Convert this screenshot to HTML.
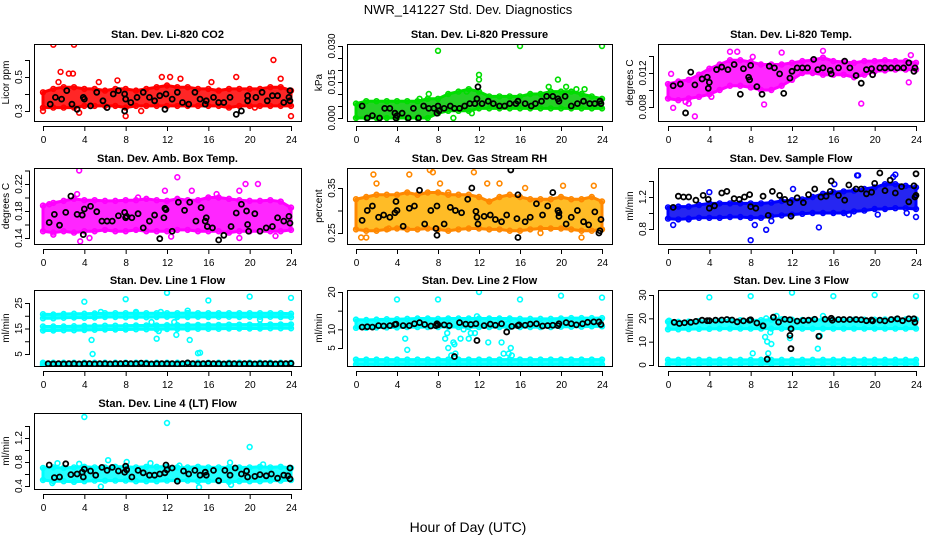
<!DOCTYPE html>
<html><head><meta charset="utf-8"><style>
html,body{margin:0;padding:0;background:#fff;}
svg{display:block;font-family:"Liberation Sans",Arial,sans-serif;}
</style></head><body>
<svg id="chart" width="936" height="540" viewBox="0 0 936 540" xmlns="http://www.w3.org/2000/svg">
<rect width="936" height="540" fill="#fff"/>
<text x="468" y="14" text-anchor="middle" font-size="13">NWR_141227  Std. Dev. Diagnostics</text>
<text x="468" y="532" text-anchor="middle" font-size="14">Hour of Day (UTC)</text>
</svg>
<script>
const xTicks = [0,4,8,12,16,20,24];
const hours = [0,1,2,3,4,5,6,7,8,9,10,11,12,13,14,15,16,17,18,19,20,21,22,23,24];

// P1 CO2
const co2Lo = [.32,.32,.32,.32,.33,.33,.33,.33,.32,.33,.33,.33,.33,.33,.33,.33,.33,.33,.32,.33,.33,.33,.33,.33,.33];
const co2Hi = [.41,.43,.44,.44,.43,.43,.42,.43,.43,.42,.43,.44,.45,.44,.44,.43,.43,.42,.43,.43,.43,.43,.44,.44,.42];
const co2OutX = [1,3,1.7,2.5,2.9,1.5,7.2,5.4,11.5,12.3,13.3,16.3,18.7,22.3,23,0,3.5,8,9.5,24,20.5];
const co2OutY = [.69,.69,.53,.52,.52,.47,.48,.47,.50,.50,.49,.47,.50,.60,.49,.30,.29,.27,.30,.27,.32];
const co2BlkX = [0.7,1.2,1.8,2.3,2.8,3.3,3.9,4,4.6,5.2,5.8,6.2,6.8,7.3,7.9,8,7.9,8.5,9.1,9.7,10.3,10.8,11.3,11.8,11.9,12.5,13,13.5,14.1,14.7,15.2,15.8,15.7,16.5,17,17.5,18.1,18.7,19.2,19.8,19.8,20.6,21.2,21.7,22.2,22.7,23.3,23.8,23.9,23.9];
const co2BlkY = [.34,.38,.37,.42,.34,.31,.38,.37,.33,.41,.36,.32,.40,.42,.40,.37,.30,.35,.38,.41,.38,.36,.39,.31,.40,.37,.41,.35,.34,.41,.37,.36,.34,.38,.35,.35,.38,.28,.30,.39,.36,.38,.41,.36,.39,.39,.35,.38,.42,.36];

// P2 Pressure
const prLo = [0,0,0,0,0,0,0,0,.002,.003,.003,.003,.004,.004,.004,.004,.004,.004,.004,.004,.004,.004,.004,.004,.004];
const prHi = [.006,.007,.007,.007,.007,.007,.007,.008,.008,.010,.011,.012,.011,.009,.009,.009,.009,.010,.010,.011,.011,.011,.010,.009,.008];
const prOutX = [8,16,24,12,12,19.7,18.8,20.5,22.3,7.1,11.3,9.5,6.2,10.8,21.5];
const prOutY = [.028,.030,.030,.018,.016,.016,.013,.013,.012,.010,.002,.000,.008,.011,.012];
const prBlkX = [0.6,1.1,1.6,2.3,2.8,3.3,3.8,3.9,4,4.5,5.1,5.6,6.1,6.6,7.1,7.6,7.9,8,8.1,8.6,9.2,9.6,10.1,10.6,11.1,11.6,11.9,11.8,12.3,12.9,13.4,14,14.5,15,15.6,15.8,16.5,17.1,17.5,18.1,18.6,19.2,19.7,19.8,20.4,21,21.6,22.2,22.8,23.3,23.8,23.9];
const prBlkY = [.005,.000,.001,.000,.004,.004,.002,.000,.001,.002,.000,.004,.000,.005,.004,.004,.002,.005,.003,.004,.005,.004,.004,.005,.006,.006,.013,.008,.006,.007,.006,.005,.005,.006,.006,.007,.006,.005,.006,.007,.009,.009,.008,.007,.009,.005,.006,.007,.006,.006,.007,.006];

// P3 Li-820 Temp
const tmLo = [.0090,.0088,.0090,.0092,.0095,.0100,.0105,.0105,.0103,.0100,.0100,.0105,.0112,.0120,.0120,.0118,.0118,.0118,.0115,.0118,.0122,.0123,.0124,.0124,.0124];
const tmHi = [.0107,.0110,.0112,.0118,.0125,.0130,.0135,.0135,.0133,.0130,.0130,.0130,.0132,.0134,.0135,.0138,.0134,.0133,.0132,.0134,.0134,.0135,.0134,.0134,.0132];
const tmOutX = [2.6,1.7,6,6.7,11,15,9.3,18.7,0.5,23.5,23.3,0.3,2,4.2,8.2];
const tmOutY = [.0069,.0086,.0145,.0145,.0144,.0146,.0083,.0084,.0079,.0141,.0109,.0119,.0084,.0092,.0139];
const tmBlkX = [0.5,1.2,1.7,2.2,2.6,3.3,3.8,3.9,4,4.7,5.2,5.8,6.4,7,7.3,7.8,7.9,8,8.6,9.1,9.8,10.3,10.8,11.2,11.8,12,12.5,13,13.5,14.1,14.5,15,15.7,15.8,16.5,17.1,17.6,18.2,18.7,19.2,19.7,19.8,20.5,21,21.6,22.2,22.8,23.3,23.8,23.9];
const tmBlkY = [.0105,.0107,.0073,.0121,.0106,.0113,.0115,.0102,.0109,.0124,.0127,.0124,.0130,.0095,.0125,.0115,.0112,.0129,.0104,.0095,.0128,.0126,.0119,.0096,.0114,.0122,.0126,.0126,.0126,.0136,.0124,.0126,.0123,.0119,.0126,.0134,.0126,.0117,.0108,.0124,.0125,.0118,.0126,.0126,.0126,.0126,.0126,.0132,.0122,.0126];

// P4 Amb Box Temp
const abLo = [.150,.148,.150,.148,.150,.150,.152,.150,.150,.152,.150,.150,.150,.152,.152,.150,.150,.150,.148,.150,.150,.150,.150,.150,.152];
const abHi = [.188,.192,.195,.198,.196,.196,.195,.195,.196,.196,.198,.196,.195,.198,.196,.196,.200,.200,.198,.196,.195,.195,.196,.194,.185];
const abOutX = [3.5,13,14.4,19,19.6,20.8,0.6,3.6,4.5,19,22.5,12.4,3.3,9.2,16.8,1,11.8];
const abOutY = [.24,.23,.21,.21,.22,.22,.19,.135,.14,.14,.143,.142,.205,.2,.205,.145,.21];
const abBlkX = [0.6,1.1,1.6,2.2,2.7,3.3,3.8,3.9,4,4.6,5.2,5.7,6.2,6.7,7.3,7.9,8,8.1,8.6,9.2,9.7,10.3,10.8,11.3,11.7,11.8,11.9,12.5,13.1,13.7,14.2,14.8,15.3,15.8,15.7,15.9,16.4,17,17.5,18.2,18.7,19.2,19.7,19.8,19.9,20.5,21,21.6,22.2,22.7,23.3,23.8,23.9];
const abBlkY = [.163,.175,.159,.178,.202,.175,.174,.145,.183,.187,.179,.165,.165,.165,.173,.178,.170,.172,.170,.176,.155,.165,.174,.139,.170,.184,.182,.150,.193,.181,.193,.165,.185,.170,.165,.157,.155,.137,.144,.157,.177,.190,.180,.160,.150,.176,.150,.155,.157,.170,.165,.172,.162];

// P5 Gas Stream RH
const rhLo = [.258,.255,.255,.258,.26,.258,.258,.26,.258,.255,.258,.26,.26,.258,.258,.255,.255,.258,.26,.26,.26,.258,.255,.255,.258];
const rhHi = [.325,.33,.335,.335,.335,.34,.335,.34,.34,.335,.335,.335,.33,.32,.33,.335,.33,.325,.325,.325,.33,.325,.325,.33,.32];
const rhOutX = [1.7,5.2,7.2,7.5,11.5,8.2,0.5,1,3.2,12.8,20.2,23.2,22,14,2,16.5,9,18];
const rhOutY = [.38,.38,.39,.385,.385,.36,.24,.24,.26,.36,.355,.355,.24,.36,.36,.35,.34,.25];
const rhBlkX = [0.6,1.1,1.6,2.2,2.7,3.3,3.8,3.9,4,4.6,5.2,5.7,6.2,6.7,7.3,7.9,7.8,7.9,8.6,9.2,9.7,10.3,10.9,11.3,11.7,11.8,11.9,12.5,13.1,13.6,14.2,14.7,15.1,15.7,15.8,15.8,16.5,17,17.6,18.2,18.7,19.2,19.7,19.8,19.8,20.5,21,21.6,22.2,22.7,23.3,23.7,23.8,23.9];
const rhBlkY = [.278,.30,.31,.285,.29,.285,.295,.32,.30,.265,.305,.31,.345,.27,.30,.31,.26,.245,.27,.307,.30,.295,.325,.35,.298,.285,.27,.287,.29,.28,.275,.29,.39,.282,.335,.24,.275,.285,.315,.29,.31,.34,.30,.295,.287,.27,.285,.30,.275,.268,.297,.25,.255,.28];

// P6 Sample Flow
const sfLo = [.93,.92,.93,.94,.94,.94,.95,.95,.94,.94,.96,.97,.98,.99,1.0,1.0,1.0,1.0,1.02,1.03,1.05,1.05,1.06,1.06,1.05];
const sfHi = [1.07,1.08,1.08,1.10,1.12,1.12,1.12,1.12,1.12,1.12,1.13,1.15,1.16,1.17,1.20,1.24,1.26,1.27,1.28,1.30,1.32,1.36,1.36,1.34,1.32];
const sfOutX = [8,9.5,14.6,0.5,18.3,22,21.8,4,12.1,24,17.5,8.4,18.4,10,2,16.1,20.3,23.1];
const sfOutY = [.66,.79,.82,.85,1.47,1.48,1.45,1.26,1.30,.95,.98,.85,1.47,.90,.92,1.36,.98,1.0];
const sfBlkX = [0.5,1,1.5,2,2.7,3.4,3.9,4,4.5,5.2,5.7,6.4,6.9,7.4,7.9,8,8.5,9.2,9.7,10.1,10.8,11.3,11.8,11.9,12.5,13.1,13.6,14.2,14.8,15.3,15.8,15.7,16.5,17.1,17.5,18.2,18.7,19.2,19.7,20,20.5,21,21.5,22,22.6,23.3,23.8,23.9,24,24];
const sfBlkY = [1.07,1.21,1.20,1.20,1.16,1.22,1.17,1.06,1.09,1.25,1.27,1.18,1.17,1.20,1.23,1.08,1.06,1.21,.97,1.27,1.22,1.17,1.13,.96,1.19,1.13,1.23,1.30,1.20,1.21,1.40,1.27,1.22,1.16,1.35,1.30,1.30,1.24,1.26,1.37,1.50,1.28,1.41,1.25,1.33,1.14,1.34,1.20,1.49,1.22];

// P7 Line 1
const l1ALo = [19.0,19.0,19.2,19.3,19.2,19.3,19.5,19.5,19.4,19.5,19.4,19.5,19.6,19.5,19.5,19.6,19.5,19.6,19.6,19.5,19.6,19.6,19.6,19.5,19.4];
const l1AHi = [20.6,20.5,20.7,20.8,20.8,20.9,21.0,21.0,21.0,21.0,21.0,21.0,21.0,21.0,21.1,21.0,21.0,21.0,21.0,21.0,21.0,21.0,21.0,21.0,20.8];
const l1BLo = [14.2,14.2,14.3,14.3,14.4,14.5,14.6,14.6,14.6,14.7,14.7,14.7,14.8,14.8,14.8,14.9,14.9,14.9,15.0,15.0,15.0,15.0,15.1,15.1,15.1];
const l1BHi = [15.8,15.8,15.8,15.9,16.0,16.0,16.1,16.1,16.1,16.2,16.2,16.2,16.3,16.3,16.3,16.4,16.4,16.4,16.5,16.5,16.5,16.5,16.6,16.6,16.6];
const l1CLo = [0.6,0.6,0.6,0.6,0.6,0.6,0.6,0.6,0.6,0.6,0.6,0.6,0.6,0.6,0.6,0.6,0.6,0.6,0.6,0.6,0.6,0.6,0.6,0.6,0.6];
const l1CHi = [1.6,1.6,1.6,1.6,1.6,1.6,1.6,1.6,1.6,1.6,1.6,1.6,1.6,1.6,1.6,1.6,1.6,1.6,1.6,1.6,1.6,1.6,1.6,1.6,1.6];
const l1OutX = [4,8,12,16,20,24,4.7,4.8,11,11.2,12.9,14.2,15,15.2,0,9,14,11.4,5.6,10.5,12.7,21];
const l1OutY = [25.5,26.5,29,26,27.5,27,10.5,5,11,14,12.5,10.5,5.3,5.5,1,21.5,22,21.5,21.5,17.5,17.5,18.5];
const l1BlkX = [0.5,1,1.5,2,2.5,3,3.5,4,4.5,5,5.5,6,6.5,7,7.5,8,8.5,9,9.5,10,10.5,11,11.5,12,12.5,13,13.5,14,14.5,15,15.5,16,16.5,17,17.5,18,18.5,19,19.5,20,20.5,21,21.5,22,22.5,23,23.5,24];
const l1BlkY = [1.2,1.1,1.2,1.1,1.2,1.2,1.1,1.2,1.2,1.1,1.2,1.2,1.1,1.2,1.2,1.3,1.2,1.2,1.4,1.2,1.1,1.2,1.2,1.2,1.2,1.1,1.2,1.5,1.2,1.1,1.2,1.3,1.2,1.2,1.1,1.2,1.2,1.1,1.2,1.2,1.1,1.2,1.2,1.2,1.1,1.2,1.2,1.3];

// P8 Line 2
const l2ALo = [10.4,10.4,10.5,10.5,10.5,10.6,10.6,10.6,10.6,10.7,10.6,10.6,10.6,10.6,10.6,10.6,10.6,10.6,10.6,10.6,10.7,10.7,10.7,10.8,10.8];
const l2AHi = [12.6,12.5,12.6,12.7,12.7,12.8,12.9,12.9,12.8,12.9,12.9,12.9,12.9,12.9,12.9,12.9,12.8,12.8,12.8,12.8,12.9,13.0,13.0,13.0,13.0];
const l2CLo = [0.6,0.6,0.6,0.6,0.6,0.6,0.6,0.6,0.6,0.6,0.6,0.6,0.6,0.6,0.6,0.6,0.6,0.6,0.6,0.6,0.6,0.6,0.6,0.6,0.6];
const l2CHi = [1.9,1.9,1.9,1.9,1.9,1.9,1.9,1.9,1.9,1.9,1.9,1.9,1.9,1.9,1.9,1.9,1.9,1.9,1.9,1.9,1.9,1.9,1.9,1.9,1.9];
const l2OutX = [4,8,12,16,20,24,4.8,5,8.7,8.9,9,9.3,9.5,9.6,9.7,10.2,11,11.2,11.6,11.8,12.9,14.2,14.4,14.9,15.1,15.2,10.5,14.8];
const l2OutY = [18,18,20,18,19,18.5,7.5,4.5,7.5,9,5,3,6.5,6,3.5,7.5,7.5,9,9,13.5,6.5,6.5,3.5,3.5,5,3,10,11.5];
const l2BlkX = [0.6,1.1,1.6,2.2,2.7,3.3,3.8,3.9,4.6,5.2,5.7,6.2,6.7,7.3,7.9,7.8,8,8.6,9.1,9.6,10.1,10.7,11.2,11.7,11.8,12.5,13.1,13.6,14.2,14.7,15.2,15.8,15.9,16.5,17,17.6,18.2,18.7,19.2,19.7,19.8,20.5,21,21.5,22.1,22.6,23.2,23.7,23.9];
const l2BlkY = [10.6,10.7,10.6,11,10.9,11,11.3,11.4,11,11,11.5,11.8,11.3,10.9,11.5,11,11.2,11.2,11,2.7,11.8,11.4,11.3,11.5,7,11,11.4,11.1,11.5,9.3,10.8,11,11.2,11.1,11.4,11.5,10.9,11,11.1,11,11.5,11.8,11.5,11.2,11.5,11.9,12,12,11.3];

// P9 Line 3
const l3ALo = [15.3,15.3,15.4,15.5,15.5,15.6,15.6,15.6,15.6,15.6,15.6,15.6,15.6,15.6,15.6,15.6,15.6,15.6,15.6,15.6,15.6,15.6,15.6,15.6,15.6];
const l3AHi = [18.6,18.5,18.6,18.8,19.0,19.0,19.2,19.2,19.1,19.2,19.4,19.6,19.4,19.3,19.3,19.4,19.4,19.4,19.4,19.4,19.4,19.5,19.5,19.5,19.5];
const l3CLo = [0.4,0.4,0.4,0.4,0.4,0.4,0.4,0.4,0.4,0.4,0.4,0.4,0.4,0.4,0.4,0.4,0.4,0.4,0.4,0.4,0.4,0.4,0.4,0.4,0.4];
const l3CHi = [2.2,2.2,2.2,2.2,2.2,2.2,2.2,2.2,2.2,2.2,2.2,2.2,2.2,2.2,2.2,2.2,2.2,2.2,2.2,2.2,2.2,2.2,2.2,2.2,2.2];
const l3OutX = [4,8,12,16,20,24,8.2,9.4,9.6,9.7,10,9.9,9.5,11.8,14.5,14.7,0.1,10.5,15];
const l3OutY = [29,29.5,31,29.5,30,29.5,5,12,10,5,9,14,20,11.5,7,12.5,19,21,21];
const l3BlkX = [0.6,1.1,1.6,2.2,2.7,3.3,3.8,4,4.6,5.2,5.7,6.2,6.7,7.3,7.9,8,8.6,9.2,9.6,10.2,10.7,11.3,11.8,11.9,11.8,11.9,12.5,13.1,13.6,14.2,14.6,15.2,15.8,15.9,16.5,17,17.6,18.2,18.7,19.2,19.7,19.8,20.5,21,21.6,22.2,22.7,23.3,23.8,23.9];
const l3BlkY = [18.3,17.8,18.1,18.3,18.7,19.2,19,19,19.2,19.3,19.5,19.3,18.5,18.9,19.2,19.4,18,16.8,2.5,20.5,18.4,19.6,19.4,7,12.7,15.5,18.8,19.1,19.2,19.6,12.3,19.6,20,19.2,19.5,19.5,19.5,19.5,19.4,19,19.3,18.9,19.2,18.9,19.5,19.8,19,19.8,19.8,18.3];

// P10 Line 4
const l4Lo = [.50,.48,.48,.47,.48,.49,.49,.49,.49,.48,.48,.48,.49,.49,.49,.48,.48,.48,.47,.48,.48,.48,.49,.49,.50];
const l4Hi = [.70,.71,.70,.71,.72,.71,.71,.72,.72,.71,.72,.72,.72,.71,.71,.72,.71,.71,.71,.71,.71,.72,.71,.72,.70];
const l4OutX = [4,12,20,5.6,15.1,6.3,8.1,18.1,3.5,1.4,10.4,21.3,0.9,13.2,18.2];
const l4OutY = [1.55,1.45,1.05,.39,.38,.83,.80,.79,.77,.78,.78,.76,.45,.74,.42];
const l4BlkX = [0.6,1.1,1.6,2.2,2.7,3.3,3.8,3.9,4,4.6,5.1,5.7,6.2,6.7,7.3,7.9,8,8.1,8.6,9.2,9.7,10.3,10.8,11.3,11.8,11.9,12,12.5,13,13.6,14.1,14.7,15.2,15.8,15.7,16.5,17,17.6,18.1,18.6,19.2,19.7,19.8,20.5,21,21.6,22.1,22.7,23.3,23.7,23.9,23.9];
const l4BlkY = [.75,.54,.55,.77,.59,.60,.63,.55,.68,.65,.58,.71,.66,.71,.65,.63,.73,.67,.55,.66,.62,.58,.58,.60,.62,.75,.67,.70,.48,.65,.60,.66,.58,.58,.63,.66,.49,.66,.58,.70,.60,.65,.55,.56,.59,.57,.60,.53,.58,.57,.70,.52];

const NS = "http://www.w3.org/2000/svg";
const svg = document.getElementById('chart');
function mk(tag, attrs, parent){ const e=document.createElementNS(NS,tag); for(const k in attrs) e.setAttribute(k,attrs[k]); (parent||svg).appendChild(e); return e; }

const panels = [
 {key:'co2',title:'Stan. Dev. Li-820 CO2',ylab:'Licor ppm',col:'#ff0000',fill:'#ff0000',box:[34,44,301,121],x0:43,x1:291,ya:[0.3,111],yb:[0.5,77],ticks:[0.3,0.4,0.5,0.6],labs:['0.3','0.5'],labv:[0.3,0.5],bands:[[co2Lo,co2Hi]],ox:co2OutX,oy:co2OutY,bx:co2BlkX,by:co2BlkY},
 {key:'pressure',title:'Stan. Dev. Li-820 Pressure',ylab:'kPa',col:'#00dd00',fill:'#00c800',box:[347,44,612,121],x0:356,x1:602,ya:[0,118],yb:[0.030,46],ticks:[0,0.005,0.010,0.015,0.020,0.025,0.030],labs:['0.000','0.015','0.030'],labv:[0,0.015,0.030],bands:[[prLo,prHi]],ox:prOutX,oy:prOutY,bx:prBlkX,by:prBlkY},
 {key:'li820-temp',title:'Stan. Dev. Li-820 Temp.',ylab:'degrees C',col:'#ff00ff',fill:'#ff00ff',box:[658,44,924,121],x0:668,x1:916,ya:[0.008,107],yb:[0.012,73],ticks:[0.008,0.010,0.012,0.014],labs:['0.008','0.012'],labv:[0.008,0.012],bands:[[tmLo,tmHi]],ox:tmOutX,oy:tmOutY,bx:tmBlkX,by:tmBlkY},
 {key:'amb-box-temp',title:'Stan. Dev. Amb. Box Temp.',ylab:'degrees C',col:'#ff00ff',fill:'#ff00ff',box:[34,168,301,244],x0:43,x1:291,ya:[0.14,238],yb:[0.22,184],ticks:[0.14,0.16,0.18,0.20,0.22,0.24],labs:['0.14','0.18','0.22'],labv:[0.14,0.18,0.22],bands:[[abLo,abHi]],ox:abOutX,oy:abOutY,bx:abBlkX,by:abBlkY},
 {key:'gas-stream-rh',title:'Stan. Dev. Gas Stream RH',ylab:'percent',col:'#ff8800',fill:'#ffb000',box:[347,168,612,244],x0:356,x1:602,ya:[0.25,233],yb:[0.35,188],ticks:[0.25,0.30,0.35],labs:['0.25','0.35'],labv:[0.25,0.35],bands:[[rhLo,rhHi]],ox:rhOutX,oy:rhOutY,bx:rhBlkX,by:rhBlkY},
 {key:'sample-flow',title:'Stan. Dev. Sample Flow',ylab:'ml/min',col:'#0000ff',fill:'#0000ee',box:[658,168,924,244],x0:668,x1:916,ya:[0.8,229],yb:[1.2,197],ticks:[0.8,1.0,1.2,1.4],labs:['0.8','1.2'],labv:[0.8,1.2],bands:[[sfLo,sfHi]],ox:sfOutX,oy:sfOutY,bx:sfBlkX,by:sfBlkY},
 {key:'line1-flow',title:'Stan. Dev. Line 1 Flow',ylab:'ml/min',col:'#00ffff',fill:'#00ffff',box:[34,290,301,366],x0:43,x1:291,ya:[5,354],yb:[25,303],ticks:[5,10,15,20,25],labs:['5','15','25'],labv:[5,15,25],bands:[[l1ALo,l1AHi],[l1BLo,l1BHi],[l1CLo,l1CHi]],ox:l1OutX,oy:l1OutY,bx:l1BlkX,by:l1BlkY},
 {key:'line2-flow',title:'Stan. Dev. Line 2 Flow',ylab:'ml/min',col:'#00ffff',fill:'#00ffff',box:[347,290,612,366],x0:356,x1:602,ya:[5,348],yb:[20,292],ticks:[5,10,15,20],labs:['5','10','20'],labv:[5,10,20],bands:[[l2ALo,l2AHi],[l2CLo,l2CHi]],ox:l2OutX,oy:l2OutY,bx:l2BlkX,by:l2BlkY},
 {key:'line3-flow',title:'Stan. Dev. Line 3 Flow',ylab:'ml/min',col:'#00ffff',fill:'#00ffff',box:[658,290,924,366],x0:668,x1:916,ya:[0,365],yb:[30,295],ticks:[0,10,20,30],labs:['0','10','20','30'],labv:[0,10,20,30],bands:[[l3ALo,l3AHi],[l3CLo,l3CHi]],ox:l3OutX,oy:l3OutY,bx:l3BlkX,by:l3BlkY},
 {key:'line4-flow',title:'Stan. Dev. Line 4 (LT) Flow',ylab:'ml/min',col:'#00ffff',fill:'#00ffff',box:[34,413,301,489],x0:43,x1:291,ya:[0.4,486],yb:[1.2,438],ticks:[0.4,0.6,0.8,1.0,1.2,1.4],labs:['0.4','0.8','1.2'],labv:[0.4,0.8,1.2],bands:[[l4Lo,l4Hi]],ox:l4OutX,oy:l4OutY,bx:l4BlkX,by:l4BlkY}
];

panels.forEach(p=>{
  const [L,T,R,B]=p.box;
  const xs = v => p.x0 + (p.x1-p.x0)*v/24;
  const ys = v => p.ya[1] + (p.yb[1]-p.ya[1])*(v-p.ya[0])/(p.yb[0]-p.ya[0]);
  const g = mk('g',{});
  
  
  const clipId='clip-'+p.key;
  const cp=mk('clipPath',{id:clipId},g); mk('rect',{x:L,y:T,width:R-L,height:B-T},cp);
  const plot=mk('g',{'clip-path':'url(#'+clipId+')'},g);
  p.bands.forEach(([lo,hi])=>{
    let pts=hours.map((h,i)=>xs(h)+','+ys(hi[i]));
    pts=pts.concat(hours.slice().reverse().map((h,j)=>{const i=hours.length-1-j;return xs(h)+','+ys(lo[i]);}));
    const poly=mk('polygon',{points:pts.join(' '),fill:p.fill,'fill-opacity':0.85,stroke:p.col,'stroke-width':3,'stroke-linejoin':'round'},plot);
    
    
    hours.forEach((h,i)=>{
      [lo[i],hi[i]].forEach(v=>{
        const c=mk('circle',{cx:xs(h),cy:ys(v),r:2.4,fill:'none',stroke:p.col,'stroke-width':1.6},plot);
        
        
      });
    });
  });
  p.ox.forEach((x,i)=>{
    const c=mk('circle',{cx:xs(x),cy:ys(p.oy[i]),r:2.4,fill:'none',stroke:p.col,'stroke-width':1.6},plot);
    
    
  });
  p.bx.forEach((x,i)=>{
    const c=mk('circle',{cx:xs(x),cy:ys(p.by[i]),r:2.5,fill:'none',stroke:'#000','stroke-width':1.8},plot);
    
    
  });
  const fr=mk('rect',{x:L+0.5,y:T+0.5,width:R-L,height:B-T,fill:'none',stroke:'#000','stroke-width':1},g);
  
  
  const t=mk('text',{x:(L+R)/2,y:T-6,'text-anchor':'middle','font-size':11,'font-weight':'bold'},g);
  t.textContent=p.title;
  
  
  const xa=mk('g',{},g);
  
  
  mk('line',{x1:xs(0),x2:xs(24),y1:B+5.5,y2:B+5.5,stroke:'#000'},xa);
  xTicks.forEach(v=>{
    mk('line',{x1:xs(v)+0.5,x2:xs(v)+0.5,y1:B+5,y2:B+10,stroke:'#000'},xa);
    const tl=mk('text',{x:xs(v)+0.5,y:B+22,'text-anchor':'middle','font-size':10},xa);
    tl.textContent=v;
    
    
  });
  const ya=mk('g',{},g);
  
  
  const yt0=ys(p.ticks[0]), yt1=ys(p.ticks[p.ticks.length-1]);
  mk('line',{x1:L-4.5,x2:L-4.5,y1:yt0,y2:yt1,stroke:'#000'},ya);
  p.ticks.forEach(v=>{ mk('line',{x1:L-9,x2:L-4,y1:ys(v)+0.5,y2:ys(v)+0.5,stroke:'#000'},ya); });
  p.labs.forEach((s,i)=>{
    const yy=ys(p.labv[i]);
    const tl=mk('text',{x:L-12,y:yy,'text-anchor':'middle','font-size':10,transform:'rotate(-90 '+(L-12)+' '+yy+')'},ya);
    tl.textContent=s;
    
    
  });
  const ym=(T+B)/2;
  const yl=mk('text',{x:L-25,y:ym,'text-anchor':'middle','font-size':10,transform:'rotate(-90 '+(L-25)+' '+ym+')'},g);
  yl.textContent=p.ylab;
  
  
});
</script>
</body></html>
